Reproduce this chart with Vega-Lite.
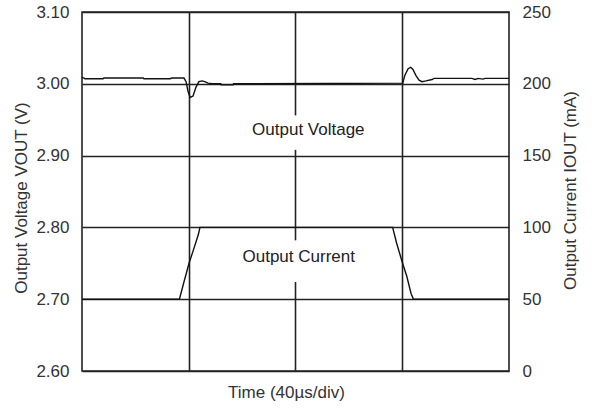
{
  "$schema": "https://vega.github.io/schema/vega-lite/v6.json",
  "width": 427,
  "height": 359,
  "autosize": {"type": "none"},
  "padding": {"left": 82, "top": 12, "right": 83, "bottom": 40},
  "background": "white",
  "config": {
    "view": {"stroke": "#222", "strokeWidth": 1.6},
    "font": "Liberation Sans",
    "axis": {
      "labelFont": "Liberation Sans",
      "titleFont": "Liberation Sans",
      "labelFontSize": 17,
      "titleFontSize": 17,
      "labelColor": "#333",
      "titleColor": "#333",
      "titleFontWeight": "normal",
      "ticks": false,
      "domain": false,
      "gridColor": "#222",
      "gridWidth": 1.6,
      "gridOpacity": 1
    }
  },
  "datasets": {
    "voltage": [
      {"t": 0, "v": 3.009}, {"t": 0.75, "v": 3.008}, {"t": 1.1, "v": 3.007}, {"t": 7.9, "v": 3.007},
      {"t": 8.2, "v": 3.008}, {"t": 22.9, "v": 3.008}, {"t": 23.2, "v": 3.007}, {"t": 33, "v": 3.007},
      {"t": 33.7, "v": 3.008}, {"t": 38.2, "v": 3.008}, {"t": 39, "v": 3.003}, {"t": 39.7, "v": 2.99},
      {"t": 40.5, "v": 2.981}, {"t": 41.6, "v": 2.983}, {"t": 42.7, "v": 2.995}, {"t": 43.8, "v": 3.003},
      {"t": 45, "v": 3.004}, {"t": 46, "v": 3.003}, {"t": 47.2, "v": 3.001}, {"t": 48.7, "v": 3.0},
      {"t": 52, "v": 3.0}, {"t": 52.1, "v": 2.9985}, {"t": 56.6, "v": 2.9985}, {"t": 56.8, "v": 3.0},
      {"t": 120.2, "v": 3.001}, {"t": 121, "v": 3.012}, {"t": 122.2, "v": 3.021}, {"t": 123.2, "v": 3.023},
      {"t": 124, "v": 3.02}, {"t": 125.2, "v": 3.011}, {"t": 126.3, "v": 3.005}, {"t": 127.4, "v": 3.003},
      {"t": 128.9, "v": 3.004}, {"t": 131.2, "v": 3.006}, {"t": 131.9, "v": 3.0075}, {"t": 146.1, "v": 3.0075},
      {"t": 147.3, "v": 3.006}, {"t": 148.4, "v": 3.0075}, {"t": 150.3, "v": 3.0065}, {"t": 151, "v": 3.0075},
      {"t": 160, "v": 3.0075}
    ],
    "current": [
      {"t": 0, "i": 50}, {"t": 36.5, "i": 50}, {"t": 38.2, "i": 62}, {"t": 40.1, "i": 75},
      {"t": 41.7, "i": 84}, {"t": 43.6, "i": 95}, {"t": 44.2, "i": 100}, {"t": 116.4, "i": 100},
      {"t": 117.9, "i": 89}, {"t": 119.8, "i": 77}, {"t": 121.7, "i": 66}, {"t": 123.3, "i": 54},
      {"t": 124.2, "i": 50}, {"t": 160, "i": 50}
    ],
    "centerline": [
      {"t": 80, "v": 3.1, "v2": 2.956},
      {"t": 80, "v": 2.908, "v2": 2.782},
      {"t": 80, "v": 2.724, "v2": 2.6}
    ],
    "labels": [
      {"t": 84.8, "v": 2.9355, "label": "Output Voltage"},
      {"t": 81.2, "v": 2.7592, "label": "Output Current"}
    ]
  },
  "layer": [
    {
      "layer": [
        {
          "data": {"name": "centerline"},
          "mark": {"type": "rule", "color": "#222", "strokeWidth": 1.6},
          "encoding": {
            "x": {
              "field": "t", "type": "quantitative",
              "scale": {"domain": [0, 160], "nice": false, "zero": false},
              "axis": {
                "values": [40, 120], "grid": true, "labels": false,
                "title": "Time (40µs/div)", "titleX": 204, "titleY": 21, "titleBaseline": "middle"
              }
            },
            "y": {
              "field": "v", "type": "quantitative",
              "scale": {"domain": [2.6, 3.1], "nice": false, "zero": false},
              "axis": {
                "orient": "left",
                "values": [2.6, 2.7, 2.8, 2.9, 3.0, 3.1], "format": ".2f",
                "grid": true, "labelPadding": 13,
                "title": "Output Voltage VOUT (V)",
                "titleX": -61, "titleY": 185.5, "titleAngle": -90, "titleBaseline": "middle"
              }
            },
            "y2": {"field": "v2"}
          }
        },
        {
          "data": {"name": "voltage"},
          "mark": {"type": "line", "color": "#111", "strokeWidth": 1.4},
          "encoding": {
            "x": {
              "field": "t", "type": "quantitative",
              "scale": {"domain": [0, 160], "nice": false, "zero": false},
              "axis": {
                "values": [40, 120], "grid": true, "labels": false,
                "title": "Time (40µs/div)", "titleX": 204, "titleY": 21, "titleBaseline": "middle"
              }
            },
            "y": {
              "field": "v", "type": "quantitative",
              "scale": {"domain": [2.6, 3.1], "nice": false, "zero": false},
              "axis": {
                "orient": "left",
                "values": [2.6, 2.7, 2.8, 2.9, 3.0, 3.1], "format": ".2f",
                "grid": true, "labelPadding": 13,
                "title": "Output Voltage VOUT (V)",
                "titleX": -61, "titleY": 185.5, "titleAngle": -90, "titleBaseline": "middle"
              }
            }
          }
        },
        {
          "data": {"name": "labels"},
          "mark": {"type": "text", "fontSize": 17, "color": "#222", "align": "center", "baseline": "middle", "font": "Liberation Sans"},
          "encoding": {
            "x": {
              "field": "t", "type": "quantitative",
              "scale": {"domain": [0, 160], "nice": false, "zero": false},
              "axis": {
                "values": [40, 120], "grid": true, "labels": false,
                "title": "Time (40µs/div)", "titleX": 204, "titleY": 21, "titleBaseline": "middle"
              }
            },
            "y": {
              "field": "v", "type": "quantitative",
              "scale": {"domain": [2.6, 3.1], "nice": false, "zero": false},
              "axis": {
                "orient": "left",
                "values": [2.6, 2.7, 2.8, 2.9, 3.0, 3.1], "format": ".2f",
                "grid": true, "labelPadding": 13,
                "title": "Output Voltage VOUT (V)",
                "titleX": -61, "titleY": 185.5, "titleAngle": -90, "titleBaseline": "middle"
              }
            },
            "text": {"field": "label"}
          }
        }
      ]
    },
    {
      "data": {"name": "current"},
      "mark": {"type": "line", "color": "#111", "strokeWidth": 1.4},
      "encoding": {
        "x": {
          "field": "t", "type": "quantitative",
          "scale": {"domain": [0, 160], "nice": false, "zero": false},
          "axis": {
            "values": [40, 120], "grid": true, "labels": false,
            "title": "Time (40µs/div)", "titleX": 204, "titleY": 21, "titleBaseline": "middle"
          }
        },
        "y": {
          "field": "i", "type": "quantitative",
          "scale": {"domain": [0, 250], "nice": false, "zero": true},
          "axis": {
            "orient": "right",
            "values": [0, 50, 100, 150, 200, 250],
            "grid": false, "labelPadding": 13,
            "title": "Output Current IOUT (mA)",
            "titleX": 61, "titleY": 178, "titleAngle": -90, "titleBaseline": "middle"
          }
        }
      }
    }
  ],
  "resolve": {"scale": {"y": "independent"}, "axis": {"y": "independent"}}
}
